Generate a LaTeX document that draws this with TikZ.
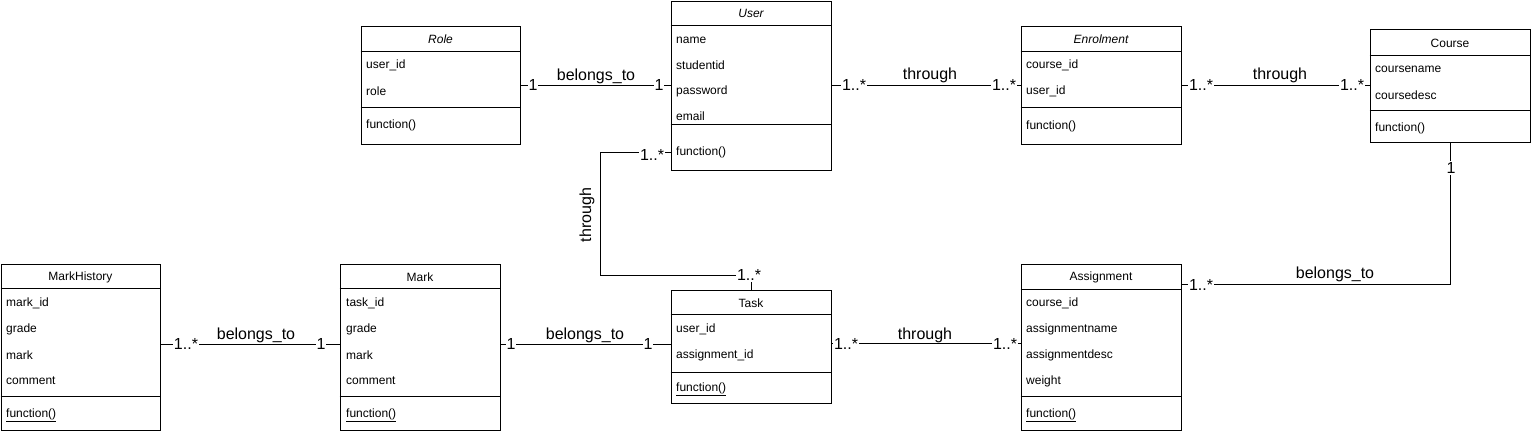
\documentclass[tikz,border=0pt]{standalone}
\usepackage{fontspec}
\setmainfont{Liberation Sans}
\usetikzlibrary{calc}
\begin{document}
\begin{tikzpicture}[x=1pt,y=-1pt,
  box/.style={draw=black, line width=1pt, inner sep=0pt, fill=white},
  attr/.style={anchor=west, inner sep=0pt, font=\fontsize{12}{14}\selectfont},
  ttl/.style={inner sep=0pt, font=\fontsize{12}{14}\selectfont},
  lbl/.style={fill=white, inner sep=1pt, font=\fontsize{16}{18}\selectfont},
  rel/.style={inner sep=0pt, font=\fontsize{16}{18}\selectfont},
  conn/.style={draw=black, line width=1pt},
  sep/.style={draw=black, line width=1pt}]
\useasboundingbox (0,0) rectangle (1531,431);

% ---------- classes ----------
% Role
\node[box, minimum width=159pt, minimum height=118pt] (role) at (440.5,85) {};
\draw[sep] ([yshift=-26pt]role.north west) -- ([yshift=-26pt]role.north east);
\draw[sep] ([yshift=-82pt]role.north west) -- ([yshift=-82pt]role.north east);
\node[ttl] (roleT) at (440.5,39) {\itshape Role};
\node[attr] (roleA1) at (366,65) {user\_id};
\node[attr] (roleA2) at (366,91) {role};
\node[attr] (roleF) at (366,125) {function()};

% User
\node[box, minimum width=160pt, minimum height=169pt] (user) at (751,85.5) {};
\draw[sep] ([yshift=-25pt]user.north west) -- ([yshift=-25pt]user.north east);
\draw[sep] ([yshift=-124pt]user.north west) -- ([yshift=-124pt]user.north east);
\node[ttl] (userT) at (751,13) {\itshape User};
\node[attr] (userA1) at (676,40) {name};
\node[attr] (userA2) at (676,65) {studentid};
\node[attr] (userA3) at (676,91) {password};
\node[attr] (userA4) at (676,116) {email};
\node[attr] (userF) at (676,152) {function()};

% Enrolment
\node[box, minimum width=160pt, minimum height=118pt] (enrol) at (1101,85) {};
\draw[sep] ([yshift=-26pt]enrol.north west) -- ([yshift=-26pt]enrol.north east);
\draw[sep] ([yshift=-82pt]enrol.north west) -- ([yshift=-82pt]enrol.north east);
\node[ttl] (enrolT) at (1101,39) {\itshape Enrolment};
\node[attr] (enrolA1) at (1026,65) {course\_id};
\node[attr] (enrolA2) at (1026,91) {user\_id};
\node[attr] (enrolF) at (1026,126) {function()};

% Course
\node[box, minimum width=160pt, minimum height=113pt] (course) at (1450,85.5) {};
\draw[sep] ([yshift=-27pt]course.north west) -- ([yshift=-27pt]course.north east);
\draw[sep] ([yshift=-82pt]course.north west) -- ([yshift=-82pt]course.north east);
\node[ttl] (courseT) at (1450,43) {Course};
\node[attr] (courseA1) at (1375,69) {coursename};
\node[attr] (courseA2) at (1375,95) {coursedesc};
\node[attr] (courseF) at (1375,128) {function()};

% MarkHistory
\node[box, minimum width=159pt, minimum height=166pt] (mh) at (80.5,347) {};
\draw[sep] ([yshift=-25pt]mh.north west) -- ([yshift=-25pt]mh.north east);
\draw[sep] ([yshift=-133pt]mh.north west) -- ([yshift=-133pt]mh.north east);
\node[ttl] (mhT) at (80.5,277) {MarkHistory};
\node[attr] (mhA1) at (6,303) {mark\_id};
\node[attr] (mhA2) at (6,329) {grade};
\node[attr] (mhA3) at (6,355) {mark};
\node[attr] (mhA4) at (6,381) {comment};
\node[attr] (mhF) at (6,415) {\underline{function()}};

% Mark
\node[box, minimum width=160pt, minimum height=166pt] (mark) at (420,347) {};
\draw[sep] ([yshift=-25pt]mark.north west) -- ([yshift=-25pt]mark.north east);
\draw[sep] ([yshift=-133pt]mark.north west) -- ([yshift=-133pt]mark.north east);
\node[ttl] (markT) at (420,277) {Mark};
\node[attr] (markA1) at (346,303) {task\_id};
\node[attr] (markA2) at (346,329) {grade};
\node[attr] (markA3) at (346,355) {mark};
\node[attr] (markA4) at (346,381) {comment};
\node[attr] (markF) at (346,415) {\underline{function()}};

% Task
\node[box, minimum width=160pt, minimum height=113pt] (task) at (751,346.5) {};
\draw[sep] ([yshift=-25pt]task.north west) -- ([yshift=-25pt]task.north east);
\draw[sep] ([yshift=-83pt]task.north west) -- ([yshift=-83pt]task.north east);
\node[ttl] (taskT) at (751,303) {Task};
\node[attr] (taskA1) at (676,329) {user\_id};
\node[attr] (taskA2) at (676,355) {assignment\_id};
\node[attr] (taskF) at (676,389) {\underline{function()}};

% Assignment
\node[box, minimum width=160pt, minimum height=166pt] (assign) at (1101,347) {};
\draw[sep] ([yshift=-26pt]assign.north west) -- ([yshift=-26pt]assign.north east);
\draw[sep] ([yshift=-133pt]assign.north west) -- ([yshift=-133pt]assign.north east);
\node[ttl] (assignT) at (1101,277) {Assignment};
\node[attr] (assignA1) at (1026,303) {course\_id};
\node[attr] (assignA2) at (1026,329) {assignmentname};
\node[attr] (assignA3) at (1026,355) {assignmentdesc};
\node[attr] (assignA4) at (1026,381) {weight};
\node[attr] (assignF) at (1026,415) {\underline{function()}};

% ---------- connectors ----------
\coordinate (ub) at ([yshift=-66.5pt]user.west);
\coordinate (b1) at (600,152);
\coordinate (b2) at (600,275);
\coordinate (ca) at ([yshift=-21pt]assign.north east);

\draw[conn] (role.east) -- (role.east -| user.west);
\draw[conn] (user.east) -- (user.east -| enrol.west);
\draw[conn] (enrol.east) -- (enrol.east -| course.west);
\draw[conn] (course.south) |- (ca);
\draw[conn] ([yshift=3pt]mh.east) -- ([yshift=3pt]mark.west);
\draw[conn] ([yshift=3pt]mark.east) -- ([yshift=3pt]mark.east -| task.west);
\draw[conn] ([yshift=3pt]task.east) -- ([yshift=3pt]task.east -| assign.west);
\draw[conn] (ub) -- (b1) -- (b2) -| (task.north);

% ---------- labels ----------
\node[lbl] (l1) at (533,85) {1};
\node[lbl] (l2) at (659,85) {1};
\node[rel] (r1) at (596,76) {belongs\_to};

\node[lbl] (l3) at (854,85) {1..*};
\node[lbl] (l4) at (1004,85) {1..*};
\node[rel] (r2) at (930,75) {through};

\node[lbl] (l5) at (1201,85) {1..*};
\node[lbl] (l6) at (1352,85) {1..*};
\node[rel] (r3) at (1280,75) {through};

\node[lbl] (l7) at (1451,168) {1};
\node[lbl] (l8) at (1201,285) {1..*};
\node[rel] (r4) at (1335,274) {belongs\_to};

\node[lbl] (l9) at (186,344) {1..*};
\node[lbl] (l10) at (321,344) {1};
\node[rel] (r5) at (256,335) {belongs\_to};

\node[lbl] (l11) at (511,344) {1};
\node[lbl] (l12) at (648,344) {1};
\node[rel] (r6) at (585,335) {belongs\_to};

\node[lbl] (l13) at (846,344) {1..*};
\node[lbl] (l14) at (1005,344) {1..*};
\node[rel] (r7) at (925,335) {through};

\node[lbl] (l15) at (652,155) {1..*};
\node[lbl] (l16) at (749,275) {1..*};
\node[rel, rotate=90] (r8) at (587,215) {through};
\end{tikzpicture}
\end{document}
